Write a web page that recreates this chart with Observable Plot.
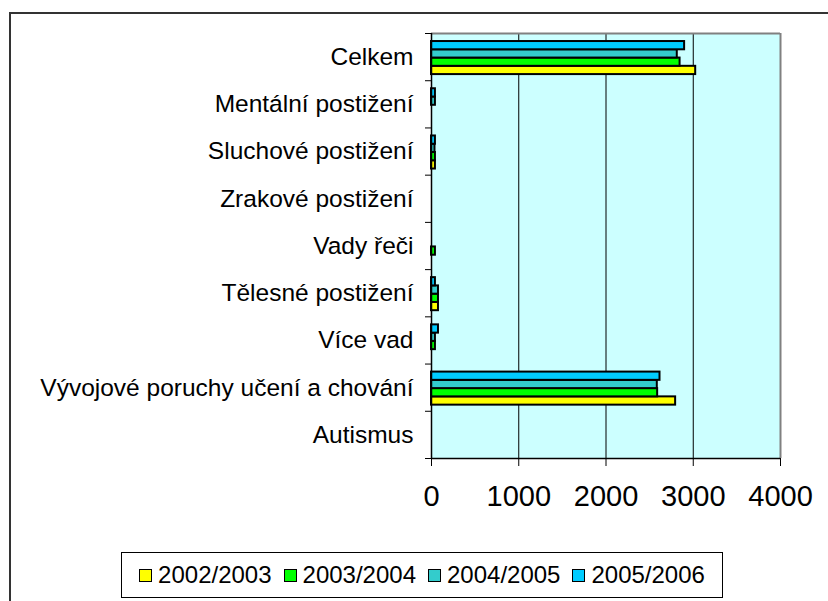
<!DOCTYPE html>
<html>
<head>
<meta charset="utf-8">
<script src="https://cdn.jsdelivr.net/npm/d3@7"></script>
<script src="https://cdn.jsdelivr.net/npm/@observablehq/plot@0.6"></script>
<style>
  body { margin: 0; background: #fff; font-family: "Liberation Sans", Arial, sans-serif; }
  #wrap { position: relative; width: 828px; height: 601px; overflow: hidden; }
  #outer { position: absolute; left: 9px; top: 12px; width: 900px; height: 700px; border-left: 2px solid #333; border-top: 2px solid #333; }
  #chart { position: absolute; left: 0; top: 0; }
  #legend { position: absolute; left: 121px; top: 552px; width: 600px; height: 44px; border: 1px solid #000;
            display: flex; align-items: center; justify-content: center; gap: 12px; font-size: 24px; color: #000; background: #fff; }
  .item { display: flex; align-items: center; gap: 6px; }
  .sw { width: 11px; height: 11px; border: 1px solid #000; }
</style>
</head>
<body>
<div id="wrap">
  <div id="outer"></div>
  <div id="chart"></div>
  <div id="legend"></div>
</div>
<script>
// ---- data ----
const categories = [
  "Celkem",
  "Mentální postižení",
  "Sluchové postižení",
  "Zrakové postižení",
  "Vady řeči",
  "Tělesné postižení",
  "Více vad",
  "Vývojové poruchy učení a chování",
  "Autismus"
];
const years = ["2002/2003", "2003/2004", "2004/2005", "2005/2006"];
const v2002 = [3028, 0, 45, 0, 0, 80, 0, 2798, 0];
const v2003 = [2849, 0, 45, 0, 45, 80, 45, 2592, 0];
const v2004 = [2817, 45, 40, 0, 0, 80, 45, 2588, 0];
const v2005 = [2901, 45, 45, 0, 0, 45, 80, 2619, 0];
const colors = ["#FFFF00", "#00FF00", "#33CCCC", "#00CCFF"];
const xTicks = [0, 1000, 2000, 3000, 4000];
const gridValues = [1000, 2000, 3000];

// ---- build table ----
const series = [v2002, v2003, v2004, v2005];
const rows = years.flatMap((yr, j) =>
  categories.map((c, i) => ({ category: c, ci: i, year: yr, value: series[j][i] }))
).filter(d => d.value > 0);

// sub-band position of each year inside a category band (latest year on top)
const sub = d3.scaleBand([...years].reverse(), [0.17, 0.87]);
const boundaries = d3.range(categories.length + 1);

const chart = Plot.plot({
  width: 828,
  height: 520,
  marginLeft: 431,
  marginRight: 48,
  marginTop: 33,
  marginBottom: 62,
  style: { fontFamily: "Liberation Sans, Arial, sans-serif", color: "#000", background: "transparent" },
  x: { domain: [0, 4000] },
  y: { domain: [0, categories.length], reverse: true },
  color: { domain: years, range: colors },
  marks: [
    Plot.frame({ fill: "#CCFFFF", stroke: null }),
    Plot.ruleX(gridValues, { stroke: "#000", strokeWidth: 1 }),
    Plot.rect(rows, {
      x1: () => 0,
      x2: "value",
      y1: d => d.ci + sub(d.year),
      y2: d => d.ci + sub(d.year) + sub.bandwidth(),
      fill: "year",
      stroke: "#000",
      strokeWidth: 2
    }),
    Plot.ruleY([0], { stroke: "#808080", strokeWidth: 2 }),
    Plot.ruleX([4000], { stroke: "#808080", strokeWidth: 2 }),
    Plot.ruleX([0], { stroke: "#000", strokeWidth: 1.5 }),
    Plot.ruleY([categories.length], { stroke: "#000", strokeWidth: 1.5 }),
    Plot.axisY({ ticks: boundaries, tickSize: 6, tickFormat: () => "", label: null, stroke: "#000" }),
    Plot.axisX({ ticks: xTicks, tickSize: 8, tickPadding: 19, fontSize: 29, label: null, stroke: "#000", tickFormat: d => String(d) }),
    Plot.text(categories, {
      x: () => 0,
      y: (d, i) => i + 0.5,
      text: d => d,
      textAnchor: "end",
      dx: -18,
      fontSize: 24.5,
      fill: "#000"
    })
  ]
});
document.getElementById("chart").appendChild(chart);

// ---- legend ----
const legend = document.getElementById("legend");
years.forEach((yr, j) => {
  const item = document.createElement("div");
  item.className = "item";
  const sw = document.createElement("div");
  sw.className = "sw";
  sw.style.background = colors[j];
  const lab = document.createElement("span");
  lab.textContent = yr;
  item.appendChild(sw);
  item.appendChild(lab);
  legend.appendChild(item);
});
</script>
</body>
</html>
